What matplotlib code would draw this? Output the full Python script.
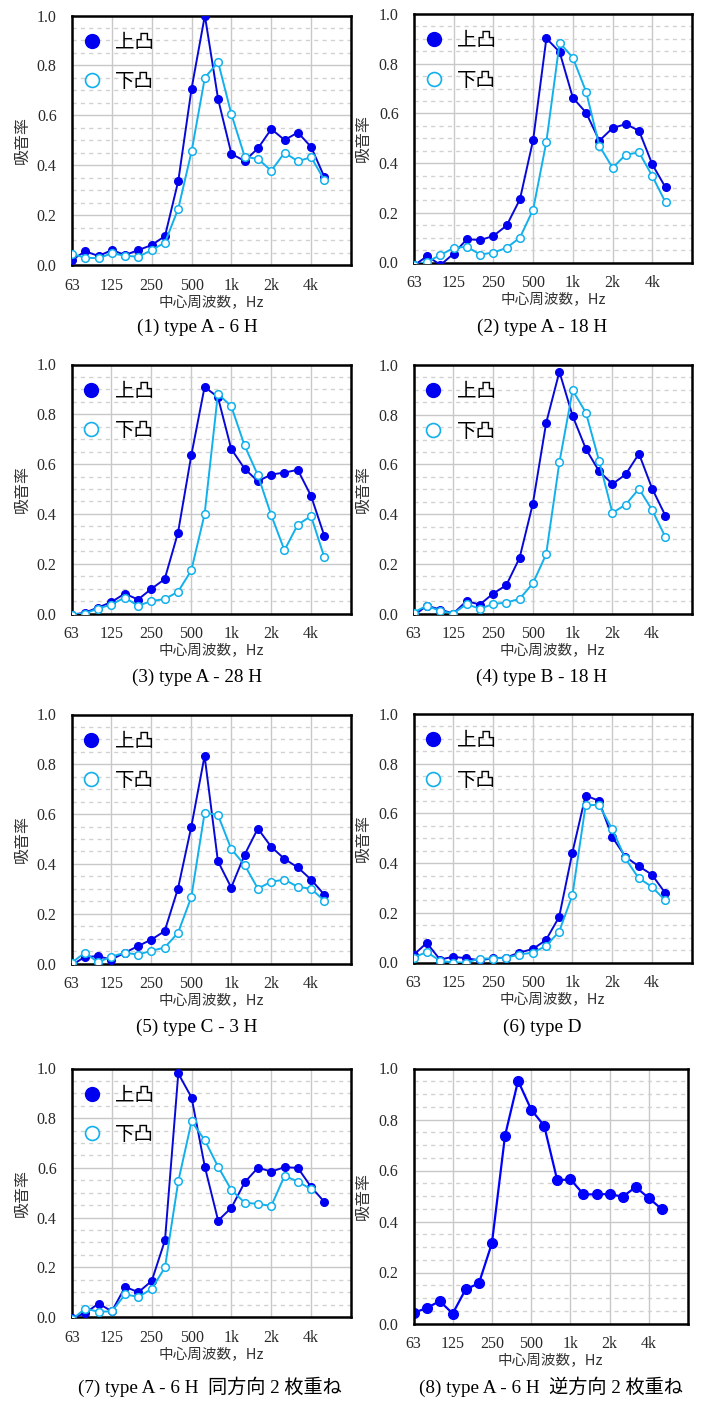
import matplotlib
matplotlib.use('Agg')
from matplotlib import pyplot as plt
from matplotlib.lines import Line2D
import numpy as np

# 1/3 octave band centres, 63 Hz .. 5 kHz
bands = ['63', '80', '100', '125', '160', '200', '250', '315', '400', '500',
         '630', '800', '1k', '1.25k', '1.6k', '2k', '2.5k', '3.15k', '4k', '5k']
tick_labels = ['63', '125', '250', '500', '1k', '2k', '4k']

# absorption coefficients, 上凸 (convex up) and 下凸 (convex down)
up_1 = [0.02, 0.055, 0.036, 0.06, 0.04, 0.06, 0.08, 0.116, 0.337, 0.707,
        1.0, 0.664, 0.445, 0.417, 0.468, 0.545, 0.501, 0.531, 0.473, 0.352]
down_1 = [0.044, 0.029, 0.027, 0.047, 0.037, 0.033, 0.06, 0.09, 0.226, 0.455,
          0.751, 0.813, 0.604, 0.434, 0.425, 0.378, 0.45, 0.416, 0.432, 0.34]

up_2 = [-0.012, 0.026, -0.01, 0.036, 0.094, 0.09, 0.107, 0.149, 0.254, 0.493,
        0.902, 0.847, 0.663, 0.603, 0.49, 0.541, 0.557, 0.53, 0.395, 0.302]
down_2 = [-0.01, 0.003, 0.03, 0.059, 0.063, 0.032, 0.04, 0.059, 0.1, 0.213,
          0.486, 0.885, 0.824, 0.687, 0.47, 0.381, 0.434, 0.443, 0.348, 0.242]

up_3 = [-0.005, 0.003, 0.024, 0.046, 0.08, 0.056, 0.099, 0.138, 0.324, 0.635,
        0.91, 0.869, 0.661, 0.582, 0.531, 0.558, 0.566, 0.577, 0.472, 0.311]
down_3 = [-0.005, 0.0, 0.02, 0.036, 0.064, 0.031, 0.05, 0.058, 0.087, 0.173,
          0.399, 0.882, 0.833, 0.675, 0.556, 0.396, 0.254, 0.357, 0.391, 0.225]

up_4 = [-0.01, 0.032, 0.016, 0.0, 0.05, 0.036, 0.08, 0.114, 0.224, 0.442,
        0.766, 0.973, 0.795, 0.662, 0.572, 0.521, 0.56, 0.643, 0.502, 0.393]
down_4 = [0.004, 0.031, 0.011, 0.0, 0.038, 0.019, 0.038, 0.044, 0.059, 0.121,
          0.238, 0.608, 0.898, 0.808, 0.613, 0.405, 0.438, 0.502, 0.416, 0.307]

up_5 = [-0.008, 0.027, 0.029, 0.016, 0.043, 0.07, 0.096, 0.13, 0.301, 0.549,
        0.834, 0.411, 0.305, 0.436, 0.542, 0.469, 0.42, 0.386, 0.337, 0.276]
down_5 = [0.003, 0.043, 0.005, 0.028, 0.043, 0.036, 0.051, 0.064, 0.123, 0.266,
          0.605, 0.597, 0.46, 0.396, 0.301, 0.328, 0.337, 0.308, 0.3, 0.252]

up_6 = [0.03, 0.079, 0.012, 0.023, 0.017, 0.009, 0.017, 0.02, 0.04, 0.054,
        0.09, 0.183, 0.442, 0.672, 0.651, 0.506, 0.426, 0.388, 0.354, 0.281]
down_6 = [0.02, 0.042, 0.007, 0.0, 0.0, 0.016, 0.016, 0.019, 0.032, 0.04,
          0.066, 0.124, 0.27, 0.632, 0.635, 0.538, 0.419, 0.34, 0.305, 0.251]

up_7 = [-0.005, 0.016, 0.054, 0.023, 0.121, 0.1, 0.145, 0.309, 0.98, 0.883,
        0.604, 0.388, 0.44, 0.542, 0.601, 0.585, 0.603, 0.6, 0.523, 0.463]
down_7 = [-0.01, 0.034, 0.021, 0.023, 0.091, 0.081, 0.113, 0.2, 0.546, 0.787,
          0.711, 0.604, 0.511, 0.46, 0.455, 0.447, 0.568, 0.545, 0.514, np.nan]

single_8 = [0.042, 0.06, 0.088, 0.039, 0.135, 0.157, 0.315, 0.736, 0.952, 0.839,
            0.775, 0.561, 0.566, 0.507, 0.506, 0.508, 0.497, 0.535, 0.492, 0.448]

captions = ['(1) type A - 6 H', '(2) type A - 18 H', '(3) type A - 28 H',
            '(4) type B - 18 H', '(5) type C - 3 H', '(6) type D',
            '(7) type A - 6 H  同方向 2 枚重ね', '(8) type A - 6 H  逆方向 2 枚重ね']
series = [(up_1, down_1), (up_2, down_2), (up_3, down_3), (up_4, down_4),
          (up_5, down_5), (up_6, down_6), (up_7, down_7), (single_8, None)]

# axes boxes in pixels: left, top, right, bottom
W, H = 702, 1403
boxes = [(72, 15.5, 351, 265), (414, 14, 692, 262.5),
         (71.5, 364.5, 351, 613.5), (413.5, 365, 692, 613.5),
         (71.5, 714.5, 351, 963.5), (413.5, 714, 691.5, 962.5),
         (72, 1068.5, 351, 1317), (413.5, 1068.5, 688, 1323.5)]
caption_pos = [(197, 327), (542, 327), (197, 677), (542, 677),
               (197, 1027), (542, 1027), (210, 1387), (551, 1387)]

BLUE = '#0808d8'
CYAN = '#12b0ec'
SERIF = 'Liberation Serif'
CJK = 'Noto Sans CJK JP'

fig = plt.figure(figsize=(W / 100, H / 100), dpi=100)
x = np.arange(len(bands))
xt = [bands.index(t) for t in tick_labels]

for i, (box, (up, down)) in enumerate(zip(boxes, series)):
    l, t, r, b = box
    ax = fig.add_axes([l / W, 1 - b / H, (r - l) / W, (b - t) / H])
    ax.set_xlim(0, 21)
    ax.set_ylim(0, 1.0)
    ax.set_xticks(xt)
    ax.set_xticklabels(tick_labels)
    ax.set_yticks(np.arange(0, 1.01, 0.2))
    ax.set_yticklabels(['%.1f' % v for v in np.arange(0, 1.01, 0.2)])
    ax.set_yticks(np.arange(0, 1.01, 0.05), minor=True)
    ax.tick_params(which='both', length=0)
    ax.tick_params(axis='y', pad=11)
    ax.tick_params(axis='x', pad=9)
    for lab in ax.get_xticklabels() + ax.get_yticklabels():
        lab.set_fontfamily(SERIF)
        lab.set_fontsize(11.5)
        lab.set_color('#2a2a2a')
    ax.grid(which='major', color='#c8c8c8', lw=1.0)
    ax.grid(which='minor', axis='y', color='#d2d2d2', lw=1.0, ls=(0, (3, 3)))
    ax.set_axisbelow(True)
    for s in ax.spines.values():
        s.set_linewidth(1.8)
        s.set_color('black')

    if down is None:
        ax.plot(x, up, color='#0000ff', lw=1.6, marker='o', ms=7,
                mfc='#0000ff', mec='#0000ff')
    else:
        ax.plot(x, up, color=BLUE, lw=1.4, marker='o', ms=5.5,
                mfc='#0000f0', mec='#0000f0', zorder=3)
        ax.plot(x, down, color=CYAN, lw=1.4, marker='o', ms=5.5,
                mfc='white', mec=CYAN, mew=1.1, zorder=4)
        handles = [Line2D([], [], ls='none', marker='o', ms=10, mfc='#0000f0', mec='#0000f0'),
                   Line2D([], [], ls='none', marker='o', ms=10, mfc='white', mec=CYAN, mew=1.2)]
        ax.legend(handles, ['上凸', '下凸'], loc='upper left', frameon=False,
                  prop={'family': CJK, 'size': 14}, handlelength=1.0,
                  handletextpad=0.7, labelspacing=0.95, borderaxespad=0.3,
                  bbox_to_anchor=(-0.012, 0.99))

    ax.set_ylabel('吸音率', fontfamily=CJK, fontsize=11.5, color='#333333')
    ax.yaxis.label.set_verticalalignment('center')
    ax.yaxis.set_label_coords(-(l - (22 if l < 200 else 363)) / (r - l), 0.5)
    ax.set_xlabel('中心周波数，Hz', fontfamily=[CJK], fontsize=10.5, color='#333333')
    ax.xaxis.set_label_coords(0.5, -(303 - 265) / (b - t))
    ax.xaxis.label.set_verticalalignment('center')

    cx, cy = caption_pos[i]
    fig.text(cx / W, 1 - cy / H, captions[i], ha='center', va='center',
             fontfamily=[SERIF, CJK], fontsize=13.8)

fig.savefig('out.png', dpi=100)
